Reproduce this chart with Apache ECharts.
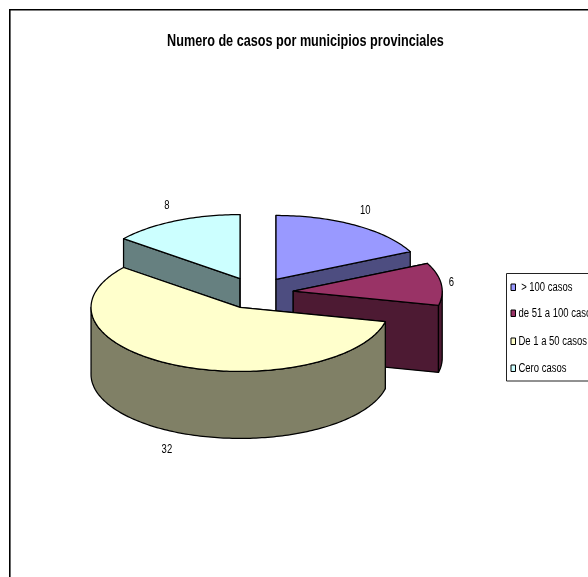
<!DOCTYPE html>
<html>
<head>
<meta charset="utf-8">
<style>html,body{margin:0;padding:0;background:#fff}#c{width:588px;height:577px}</style>
<script src="https://cdn.jsdelivr.net/npm/echarts@6/dist/echarts.min.js"></script>
</head>
<body>
<div id="c"></div>
<script>
const categories = [' > 100 casos', 'de 51 a 100 casos', 'De 1 a 50 casos', 'Cero casos'];
const values = [10, 6, 32, 8];
const topColors = ['#9999FF', '#993366', '#FFFFCC', '#CCFFFF'];
const sideColors = ['#4D4D80', '#4D1A33', '#808066', '#668080'];
const titleText = 'Numero de casos por municipios provinciales';

const FONT = '"Liberation Sans",Arial,sans-serif';
const NARROW = 0.79;
const pie = {cx: 256.2, cy: 293, rx: 149, ry: 64, depth: 67, explode: 0.25};
const legendRowY = [288, 314, 342, 369];
const total = values.reduce((a, b) => a + b, 0);

function sliceAngles(i) {
  let before = 0;
  for (let k = 0; k < i; k++) before += values[k];
  return [before / total * 2 * Math.PI, (before + values[i]) / total * 2 * Math.PI];
}
function arcPoints(ox, oy, a0, a1, dy) {
  const n = Math.max(2, Math.ceil((a1 - a0) / 0.02));
  const pts = [];
  for (let j = 0; j <= n; j++) {
    const a = a0 + (a1 - a0) * j / n;
    pts.push([ox + pie.rx * Math.sin(a), oy - pie.ry * Math.cos(a) + dy]);
  }
  return pts;
}
function makeRender(i) {
  return function () {
    const [a0, a1] = sliceAngles(i);
    const mid = (a0 + a1) / 2;
    const ox = pie.cx + pie.explode * pie.rx * Math.sin(mid);
    const oy = pie.cy - pie.explode * pie.ry * Math.cos(mid);
    const side = {fill: sideColors[i], stroke: '#000', lineWidth: 1.25, lineJoin: 'round'};
    const children = [];
    const wall = a => {
      const rim = arcPoints(ox, oy, a, a, 0)[0];
      children.push({type: 'polygon', shape: {points: [[ox, oy], rim, [rim[0], rim[1] + pie.depth], [ox, oy + pie.depth]]}, style: side});
    };
    wall(a0);
    wall(a1);
    const f0 = Math.max(a0, Math.PI / 2), f1 = Math.min(a1, 1.5 * Math.PI);
    if (f1 > f0) {
      const upper = arcPoints(ox, oy, f0, f1, 0);
      const lower = arcPoints(ox, oy, f0, f1, pie.depth).reverse();
      children.push({type: 'polygon', shape: {points: upper.concat(lower)}, style: side});
    }
    children.push({
      type: 'polygon',
      shape: {points: [[ox, oy]].concat(arcPoints(ox, oy, a0, a1, 0))},
      style: {fill: topColors[i], stroke: '#000', lineWidth: 1.25, lineJoin: 'round'}
    });
    const rimMid = arcPoints(ox, oy, mid, mid, Math.cos(mid) < 0 ? pie.depth : 0)[0];
    children.push({
      type: 'text',
      x: rimMid[0] + (Math.sin(mid) > 0 ? 10 : -8.5),
      y: rimMid[1] - 18 * Math.cos(mid) + 1,
      scaleX: NARROW,
      style: {
        text: String(values[i]),
        font: '12px ' + FONT,
        fill: '#000',
        align: 'center',
        verticalAlign: 'middle'
      }
    });
    return {type: 'group', children};
  };
}
const frontness = i => {
  const [a0, a1] = sliceAngles(i);
  return -Math.cos((a0 + a1) / 2);
};
const series = categories.map((name, i) => ({
  type: 'custom',
  name,
  coordinateSystem: 'none',
  data: [values[i]],
  z: 10 + Math.round(frontness(i) * 5),
  silent: true,
  animation: false,
  renderItem: makeRender(i),
  itemStyle: {color: topColors[i]}
}));

const legendGraphics = [{
  type: 'rect',
  silent: true,
  shape: {x: 506.5, y: 273.5, width: 120, height: 107.5},
  style: {fill: '#fff', stroke: '#222', lineWidth: 1}
}];
categories.forEach((name, i) => {
  legendGraphics.push({
    type: 'rect',
    silent: true,
    shape: {x: 511, y: legendRowY[i] - 4, width: 4.5, height: 6.5},
    style: {fill: topColors[i], stroke: '#000', lineWidth: 1}
  });
  legendGraphics.push({
    type: 'text',
    silent: true,
    x: 518.5,
    y: legendRowY[i],
    scaleX: NARROW,
    style: {text: name, font: '12px ' + FONT, fill: '#000', align: 'left', verticalAlign: 'middle'}
  });
});

const chart = echarts.init(document.getElementById('c'), null, {renderer: 'canvas'});
chart.setOption({
  backgroundColor: '#fff',
  animation: false,
  graphic: [{
    type: 'polyline',
    silent: true,
    shape: {points: [[9.8, 600], [9.8, 9.8], [600, 9.8]]},
    style: {fill: null, stroke: '#000', lineWidth: 1.6}
  }, {
    type: 'text',
    silent: true,
    x: 305.5,
    y: 41.5,
    scaleX: 0.79,
    style: {text: titleText, font: 'bold 16px ' + FONT, fill: '#000', align: 'center', verticalAlign: 'middle'}
  }].concat(legendGraphics),
  series
});
</script>
</body>
</html>
